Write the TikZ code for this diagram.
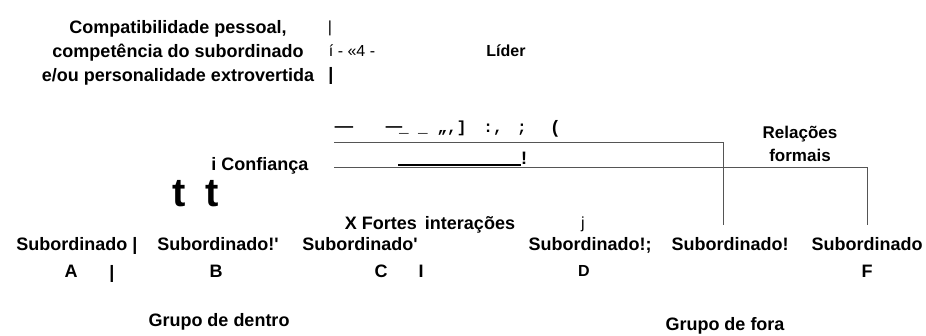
\documentclass[tikz,border=0pt]{standalone}
\usepackage{fontspec}
\setmainfont{Liberation Sans}[Ligatures=TeXOff]
\setmonofont{Liberation Mono}
\definecolor{linegray}{RGB}{85,85,85}

\begin{document}
\begin{tikzpicture}[
    x=1pt, y=-1pt,
    every node/.style={inner sep=0pt, outer sep=0pt},
    lbl/.style={font=\bfseries\fontsize{18}{24}\selectfont, align=center},
    txt/.style={font=\bfseries\fontsize{18}{22}\selectfont, anchor=base},
    tag/.style={font=\bfseries\fontsize{17}{23}\selectfont, align=center},
    junk/.style={font=\ttfamily\bfseries\fontsize{16}{18}\selectfont, anchor=base},
    thn/.style={font=\fontsize{16}{18}\selectfont, anchor=base},
    rel/.style={draw=linegray, line width=0.9pt}
]
    \useasboundingbox (0,0) rectangle (926,335);

    % Leader and criteria
    \node[lbl] (crit) at (178,53) {Compatibilidade pessoal,\\
        competência do subordinado\\ e/ou personalidade extrovertida};
    \node[thn] (bar1) at (330,32) {|};
    \node[thn] (mark) at (352,56) {í - «4 -};
    \node[txt] (bar2) at (331,80) {|};
    \node[txt, font=\bfseries\fontsize{16}{18}\selectfont] (lider) at (506,56) {Líder};

    % Scanned marks above the lines
    \node[junk, xscale=1.9] (j1) at (344,131) {—};
    \node[junk, xscale=1.7] (j2) at (394,131) {—};
    \node[junk] (j3) at (404,132) {\_};
    \node[junk] (j4) at (423,132) {\_};
    \node[junk] (j5) at (452,132) {„,]};
    \node[junk] (j6) at (493,132) {:,};
    \node[junk] (j7) at (522,132) {;};
    \node[txt] (j8) at (555,133) {(};

    % Formal relations
    \node[tag] (formal) at (800,144) {Relações\\ formais};
    \coordinate (l1) at (334,142);
    \coordinate (l2) at (334,167);
    \coordinate (e1) at (723,225);
    \coordinate (e2) at (867,225);
    \draw[rel] (l1) -| (e1);
    \draw[rel] (l2) -| (e2);

    % Trust
    \node[txt] (conf) at (260,170) {i Confiança};
    \coordinate (u1) at (398,165);
    \coordinate (u2) at (521,165);
    \draw[line width=2.4pt] (u1) -- (u2);
    \node[txt] (excl) at (524,164) {!};
    \node[txt, font=\bfseries\fontsize{40}{40}\selectfont] (t1) at (179,206) {t};
    \node[txt, font=\bfseries\fontsize{40}{40}\selectfont] (t2) at (212,206) {t};

    % Strong interactions
    \node[txt] (inter) at (430,229) {X Fortes\, interações};
    \node[thn] (jj) at (583,228) {j};

    % Subordinates
    \node[txt] (sA) at (77,250)  {Subordinado |};
    \node[txt] (sB) at (218,250) {Subordinado!'};
    \node[txt] (sC) at (360,250) {Subordinado'};
    \node[txt] (sD) at (590,250) {Subordinado!;};
    \node[txt] (sE) at (730,250) {Subordinado!};
    \node[txt] (sF) at (867,250) {Subordinado};

    \node[txt] (lA) at (71,277)  {A};
    \node[txt] (bA) at (112,278) {|};
    \node[txt] (lB) at (216,277) {B};
    \node[txt] (lC) at (381,277) {C};
    \node[txt] (bC) at (421,277) {I};
    \node[txt, font=\bfseries\fontsize{16}{18}\selectfont] (lD) at (584,276) {D};
    \node[txt] (lF) at (867,277) {F};

    % Groups
    \node[txt] (gIn)  at (219,326) {Grupo de dentro};
    \node[txt] (gOut) at (725,330) {Grupo de fora};

\end{tikzpicture}
\end{document}
